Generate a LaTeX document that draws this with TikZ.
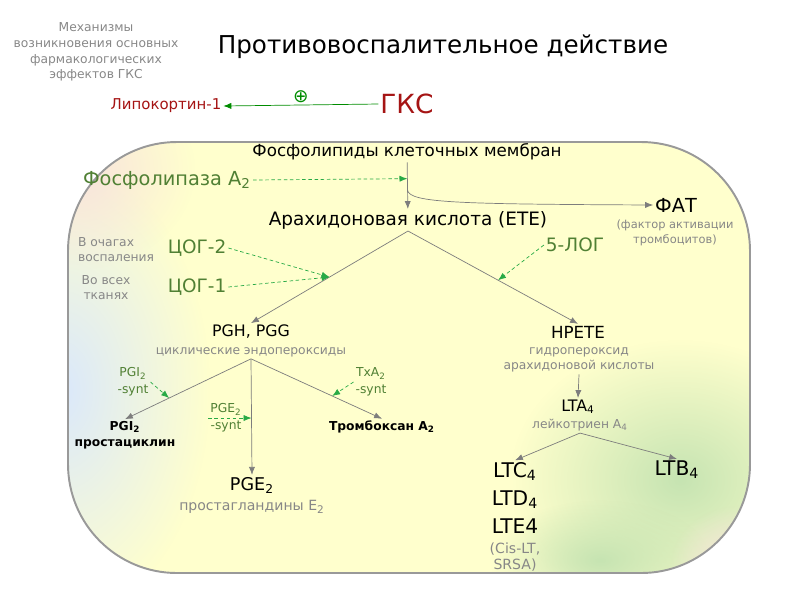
\documentclass[tikz,border=0pt]{standalone}
\usepackage{fontspec}
\setmainfont{DejaVu Sans}
\usetikzlibrary{arrows.meta,fadings}
\definecolor{enzgreen}{RGB}{80,128,52}
\definecolor{dashgreen}{RGB}{40,170,70}
\definecolor{gksred}{RGB}{165,20,20}
\definecolor{notegrey}{RGB}{135,135,135}
\definecolor{linegrey}{RGB}{125,125,125}
\definecolor{panelyellow}{RGB}{255,255,205}
\definecolor{edgeblue}{RGB}{218,232,252}
\definecolor{edgepink}{RGB}{248,226,222}
\definecolor{glowgreen}{RGB}{198,228,178}
\newcommand{\fsz}[2]{\fontsize{#1}{#2}\selectfont}
\tikzfading[name=softglow, inner color=transparent!0, outer color=transparent!100]

\begin{document}
\begin{tikzpicture}[x=0.02cm, y=-0.02cm, every node/.style={inner sep=1pt, align=center},
	flow/.style={draw=linegrey, -{Latex[length=4.5pt,width=3.5pt]}},
	act/.style={draw=dashgreen, dash pattern=on 2pt off 1.5pt, -{Latex[length=4.5pt,width=3.5pt]}},
	enz/.style={text=enzgreen, font=\fsz{10.5}{12}},
	synt/.style={text=enzgreen, font=\fsz{7}{9.5}},
	note/.style={text=notegrey, font=\fsz{7}{8.5}},
	main/.style={font=\fsz{9.5}{11}}]
	\useasboundingbox (0,0) rectangle (800,600);

	\begin{scope}
		\clip[rounded corners=62] (68,142) rectangle (750,573);
		\fill[panelyellow] (0,0) rectangle (800,600);
		\fill[edgeblue, path fading=softglow] (60,390) ellipse (150 and 230);
		\fill[edgepink, path fading=softglow] (75,170) ellipse (120 and 100);
		\fill[glowgreen, path fading=softglow] (680,480) ellipse (170 and 140);
		\fill[glowgreen, path fading=softglow] (600,560) ellipse (110 and 60);
		\fill[edgepink, path fading=softglow] (740,565) ellipse (70 and 60);
	\end{scope}
	\draw[line width=1.1pt, draw=gray!80, rounded corners=62] (68,142) rectangle (750,573);

	\node[note, font=\fsz{7}{9}] (mech) at (96,52) {Механизмы\\возникновения основных\\фармакологических\\эффектов ГКС};
	\node[font=\fsz{14}{16}] (title) at (443,47) {Противовоспалительное действие};
	\node[text=gksred, font=\fsz{15}{17}] (gks) at (407,104) {ГКС};
	\node[text=gksred, font=\fsz{8.5}{10}] (lipo) at (166,106) {Липокортин-1};
	\draw[draw=green!55!black, -{Latex[length=4.5pt,width=3.5pt]}] (gks.west) -- (lipo.east) node[pos=0.5, above=0pt, text=green!55!black, font=\fsz{10.5}{12}] (plus) {⊕};

	\node[main] (phos) at (407,152) {Фосфолипиды клеточных мембран};
	\node[font=\fsz{10.5}{12}] (ara) at (408,220) {Арахидоновая кислота (ETE)};
	\draw[flow] (phos) -- (ara) coordinate[pos=0.35] (pla) coordinate[pos=0.6] (fork);
	\node[enz, font=\fsz{11}{13}] (plase) at (167,180) {Фосфолипаза A\textsubscript{2}};
	\draw[act] (plase.east) -- (pla);
	\node[font=\fsz{11}{13}] (fat) at (676,205) {ФАТ};
	\node[note, font=\fsz{6.5}{8.5}] (fatnote) at (675,233) {(фактор активации\\тромбоцитов)};
	\draw[flow] (fork) .. controls (410,203) and (460,204) .. (fat.west);

	\node[font=\fsz{9}{11}] (pgh) at (251,332) {PGH, PGG};
	\node[note] (endo) at (251,352) {циклические эндопероксиды};
	\node[font=\fsz{9.5}{11}] (hpete) at (578,332) {HPETE};
	\node[note] (hpnote) at (579,360) {гидропероксид\\арахидоновой кислоты};
	\draw[flow] (ara.south) -- (pgh.north) coordinate[pos=0.5] (coxpt);
	\draw[flow] (ara.south) -- (hpete.north) coordinate[pos=0.53] (logpt);

	\foreach \n/\y/\t in {cox2/248/ЦОГ-2, cox1/287/ЦОГ-1} {
		\node[enz] (\n) at (197,\y) {\t};
		\draw[act] (\n.east) -- (coxpt);
	}
	\node[note, align=left, anchor=west] (focus) at (76,250) {В очагах\\воспаления};
	\node[note] (tissue) at (106,288) {Во всех\\тканях};
	\node[enz] (lox) at (575,245) {5-ЛОГ};
	\draw[act] (lox.west) -- (logpt);

	\node[font=\bfseries\fsz{7}{9}] (pgi) at (125,435) {PGI\textsubscript{2}\\простациклин};
	\node[font=\bfseries\fsz{7}{9}] (txa) at (382,427) {Тромбоксан A\textsubscript{2}};
	\node[font=\fsz{10}{12}] (pge) at (252,485) {PGE\textsubscript{2}};
	\node[note, font=\fsz{8}{10}] (pgenote) at (252,507) {простагландины E\textsubscript{2}};
	\draw[flow] (endo.south) -- (pgi.north) coordinate[pos=0.65] (pgipt);
	\draw[flow] (endo.south) -- (pge.north) coordinate[pos=0.52] (pgept);
	\draw[flow] (endo.south) -- (txa.north) coordinate[pos=0.62] (txapt);
	\node[synt] (pgisyn) at (133,382) {PGI\textsubscript{2}\\-synt};
	\node[synt] (pgesyn) at (226,418) {PGE\textsubscript{2}\\-synt};
	\node[synt] (txasyn) at (371,382) {TxA\textsubscript{2}\\-synt};
	\draw[act] (pgisyn.east) -- (pgipt);
	\draw[act] (pgesyn.west) -- (pgesyn.west -| pgept);
	\draw[act] (txasyn.west) -- (txapt);

	\node[font=\fsz{9}{11}] (lta) at (578,407) {LTA\textsubscript{4}};
	\node[note] (ltanote) at (580,425) {лейкотриен A\textsubscript{4}};
	\draw[flow] (hpnote.south) -- (lta.north);
	\node[font=\fsz{11.5}{13}] (ltc) at (515,498) {LTC\textsubscript{4}\\[3pt]LTD\textsubscript{4}\\[3pt]LTE4};
	\node[note, font=\fsz{8}{9.5}] (cislt) at (515,557) {(Cis-LT,\\SRSA)};
	\node[font=\fsz{11.5}{13}] (ltb) at (677,470) {LTB\textsubscript{4}};
	\draw[flow] (ltanote.south) -- (ltc.north);
	\draw[flow] (ltanote.south) -- (ltb.north);
\end{tikzpicture}
\end{document}
